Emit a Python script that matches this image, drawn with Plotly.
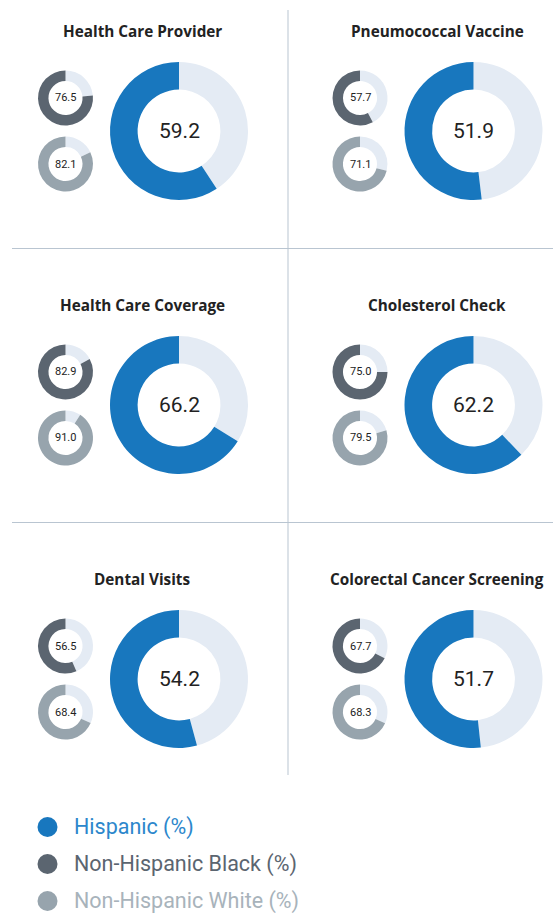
import plotly.graph_objects as go

W, H = 553, 913

categories = ["Health Care Provider", "Pneumococcal Vaccine", "Health Care Coverage",
              "Cholesterol Check", "Dental Visits", "Colorectal Cancer Screening"]
hispanic = [59.2, 51.9, 66.2, 62.2, 54.2, 51.7]
nh_black = [76.5, 57.7, 82.9, 75.0, 56.5, 67.7]
nh_white = [82.1, 71.1, 91.0, 79.5, 68.4, 68.3]
series_names = ["Hispanic (%)", "Non-Hispanic Black (%)", "Non-Hispanic White (%)"]

C_HISP = "#1877be"
C_BLACK = "#5b6570"
C_WHITE = "#97a4ad"
C_REST = "#e4ebf4"
C_GRID = "#b9c5d1"
LEG_TEXT = ["#2c87cc", "#5b6570", "#a8b3bb"]

NUM_FONT = "Liberation Sans Narrow, Roboto, Open Sans, sans-serif"
TITLE_FONT = "Open Sans, Noto Sans, sans-serif"

col_big_x = [179, 473.5]
col_small_x = [65.5, 360]
col_title_x = [142, 437]
row_y = [131, 405, 679]
title_y = [31, 305, 579]
R_BIG, R_SMALL = 69, 27.5
SMALL_DY = 33


def dom(cx, cy, r):
    return dict(x=[(cx - r) / W, (cx + r) / W], y=[1 - (cy + r) / H, 1 - (cy - r) / H])


fig = go.Figure()
ann = []
for i, cat in enumerate(categories):
    c, r = i % 2, i // 2
    cy = row_y[r]
    specs = [
        (hispanic[i], C_HISP, col_big_x[c], cy, R_BIG, 0.6, 21),
        (nh_black[i], C_BLACK, col_small_x[c], cy - SMALL_DY, R_SMALL, 0.62, 11),
        (nh_white[i], C_WHITE, col_small_x[c], cy + SMALL_DY, R_SMALL, 0.62, 11),
    ]
    for val, col, cx, ccy, rad, hole, fs in specs:
        fig.add_trace(go.Pie(
            values=[100 - val, val], labels=["rest", "v"], sort=False,
            direction="clockwise", rotation=0, hole=hole,
            marker=dict(colors=[C_REST, col], line=dict(width=0)),
            textinfo="none", hoverinfo="skip", showlegend=False,
            domain=dom(cx, ccy, rad)))
        ann.append(dict(x=cx / W, y=1 - ccy / H, xref="paper", yref="paper",
                        text=f"{val:.1f}", showarrow=False, xanchor="center", yanchor="middle",
                        font=dict(family=NUM_FONT, size=fs, color="#222222")))
    ann.append(dict(x=col_title_x[c] / W, y=1 - title_y[r] / H, xref="paper", yref="paper",
                    text=f"<b>{cat}</b>", showarrow=False, xanchor="center", yanchor="middle",
                    font=dict(family=TITLE_FONT, size=15.3, color="#222222")))

shapes = [
    dict(type="line", xref="paper", yref="paper", x0=288 / W, x1=288 / W,
         y0=1 - 10 / H, y1=1 - 775 / H, line=dict(color=C_GRID, width=1)),
    dict(type="line", xref="paper", yref="paper", x0=12 / W, x1=1,
         y0=1 - 248.5 / H, y1=1 - 248.5 / H, line=dict(color=C_GRID, width=1)),
    dict(type="line", xref="paper", yref="paper", x0=12 / W, x1=1,
         y0=1 - 522.5 / H, y1=1 - 522.5 / H, line=dict(color=C_GRID, width=1)),
]

leg_y = [827, 864, 901]
for name, col, tcol, ly in zip(series_names, [C_HISP, C_BLACK, C_WHITE], LEG_TEXT, leg_y):
    shapes.append(dict(type="circle", xref="paper", yref="paper",
                       x0=37.5 / W, x1=57.5 / W, y0=1 - (ly + 10) / H, y1=1 - (ly - 10) / H,
                       fillcolor=col, line=dict(width=0)))
    ann.append(dict(x=72 / W, y=1 - ly / H, xref="paper", yref="paper", text=name,
                    showarrow=False, xanchor="left", yanchor="middle",
                    font=dict(family=NUM_FONT, size=21.5, color=tcol)))

fig.update_layout(width=W, height=H, margin=dict(l=0, r=0, t=0, b=0),
                  paper_bgcolor="white", plot_bgcolor="white",
                  annotations=ann, shapes=shapes, showlegend=False)
fig.write_html("out.html", config=dict(displayModeBar=False),
               post_script="document.body.style.margin='0';document.body.style.overflow='hidden';")
